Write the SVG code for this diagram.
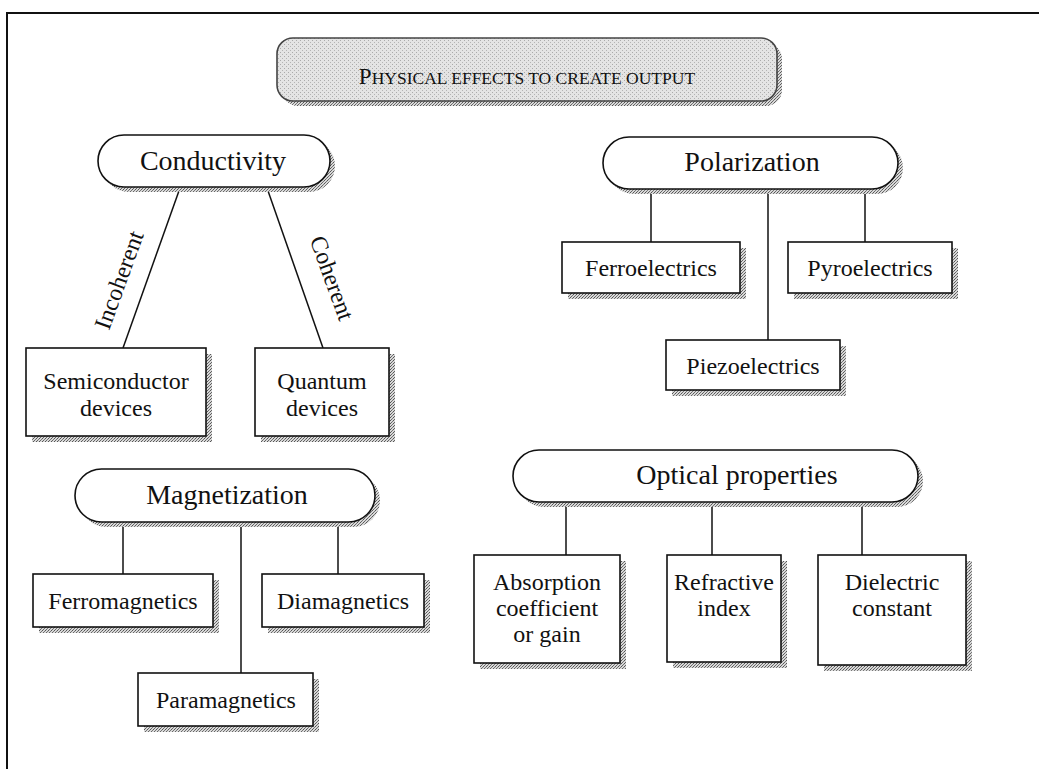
<svg xmlns="http://www.w3.org/2000/svg" width="1039" height="769" viewBox="0 0 1039 769">
  <defs>
    <!-- halftone stipple used for drop shadows -->
    <pattern id="stipple" width="3" height="3" patternUnits="userSpaceOnUse">
      <rect width="3" height="3" fill="#d8d8d8"/>
      <rect width="1" height="1" fill="#555"/>
      <rect x="2" y="1" width="1" height="1" fill="#777"/>
      <rect x="1" y="2" width="1" height="1" fill="#666"/>
    </pattern>
    <!-- lighter stipple for the title banner -->
    <pattern id="lightStipple" width="4" height="4" patternUnits="userSpaceOnUse">
      <rect width="4" height="4" fill="#e4e4e4"/>
      <rect width="1" height="1" fill="#aaa"/>
      <rect x="2" y="2" width="1" height="1" fill="#b4b4b4"/>
    </pattern>
  </defs>
  <style>
    .frame { fill: none; stroke: #111; stroke-width: 2; }
    .shadow { fill: url(#stipple); }
    .node { fill: #fff; stroke: #111; stroke-width: 1.6; }
    .banner { fill: url(#lightStipple); stroke: #444; stroke-width: 1.6; }
    .edge { stroke: #111; stroke-width: 1.5; fill: none; }
    text { font-family: "Liberation Serif", "Times New Roman", serif; fill: #111; text-anchor: middle; }
    .pill-label { font-size: 28px; }
    .box-label { font-size: 24px; }
    .edge-label { font-size: 24px; }
    .title { font-size: 17.5px; }
    .title .cap { font-size: 23px; }
  </style>

  <rect width="1039" height="769" fill="#fff"/>
  <path class="frame" d="M7,769 V13 H1039"/>

  <!-- title banner -->
  <g id="title">
    <rect class="shadow" x="282" y="43" width="500" height="63" rx="16"/>
    <rect class="banner" x="277" y="38" width="500" height="63" rx="16"/>
    <text class="title" x="527" y="84"><tspan class="cap">P</tspan>HYSICAL EFFECTS TO CREATE OUTPUT</text>
  </g>

  <!-- connectors -->
  <g id="connectors">
    <line class="edge" x1="180" y1="188" x2="123" y2="348"/>
    <line class="edge" x1="267" y1="188" x2="323" y2="348"/>
    <line class="edge" x1="651" y1="189" x2="651" y2="242"/>
    <line class="edge" x1="768" y1="189" x2="768" y2="340"/>
    <line class="edge" x1="865" y1="189" x2="865" y2="242"/>
    <line class="edge" x1="123" y1="522" x2="123" y2="574"/>
    <line class="edge" x1="241" y1="522" x2="241" y2="673"/>
    <line class="edge" x1="338" y1="522" x2="338" y2="574"/>
    <line class="edge" x1="566" y1="502" x2="566" y2="555"/>
    <line class="edge" x1="712" y1="502" x2="712" y2="555"/>
    <line class="edge" x1="862" y1="502" x2="862" y2="555"/>
    <text class="edge-label" transform="translate(119,280) rotate(-70)" y="8">Incoherent</text>
    <text class="edge-label" transform="translate(332,278) rotate(70)" y="8">Coherent</text>
  </g>

  <!-- Conductivity branch -->
  <g id="conductivity">
    <rect class="shadow" x="103" y="140" width="232" height="52" rx="26"/>
    <rect class="node" x="98" y="135" width="232" height="52" rx="26"/>
    <text class="pill-label" x="213" y="170">Conductivity</text>
  </g>
  <g id="semiconductor">
    <rect class="shadow" x="32" y="354" width="180" height="88"/>
    <rect class="node" x="26" y="348" width="180" height="88"/>
    <text class="box-label" x="116" y="389">Semiconductor</text>
    <text class="box-label" x="116" y="416">devices</text>
  </g>
  <g id="quantum">
    <rect class="shadow" x="261" y="354" width="134" height="88"/>
    <rect class="node" x="255" y="348" width="134" height="88"/>
    <text class="box-label" x="322" y="389">Quantum</text>
    <text class="box-label" x="322" y="416">devices</text>
  </g>

  <!-- Polarization branch -->
  <g id="polarization">
    <rect class="shadow" x="608" y="142" width="295" height="52" rx="26"/>
    <rect class="node" x="603" y="137" width="295" height="52" rx="26"/>
    <text class="pill-label" x="752" y="171">Polarization</text>
  </g>
  <g id="ferroelectrics">
    <rect class="shadow" x="568" y="248" width="178" height="51"/>
    <rect class="node" x="562" y="242" width="178" height="51"/>
    <text class="box-label" x="651" y="276">Ferroelectrics</text>
  </g>
  <g id="pyroelectrics">
    <rect class="shadow" x="794" y="248" width="164" height="51"/>
    <rect class="node" x="788" y="242" width="164" height="51"/>
    <text class="box-label" x="870" y="276">Pyroelectrics</text>
  </g>
  <g id="piezoelectrics">
    <rect class="shadow" x="672" y="346" width="174" height="50"/>
    <rect class="node" x="666" y="340" width="174" height="50"/>
    <text class="box-label" x="753" y="374">Piezoelectrics</text>
  </g>

  <!-- Magnetization branch -->
  <g id="magnetization">
    <rect class="shadow" x="80" y="474" width="300" height="53" rx="26.5"/>
    <rect class="node" x="75" y="469" width="300" height="53" rx="26.5"/>
    <text class="pill-label" x="227" y="504">Magnetization</text>
  </g>
  <g id="ferromagnetics">
    <rect class="shadow" x="39" y="580" width="180" height="53"/>
    <rect class="node" x="33" y="574" width="180" height="53"/>
    <text class="box-label" x="123" y="609">Ferromagnetics</text>
  </g>
  <g id="diamagnetics">
    <rect class="shadow" x="268" y="580" width="162" height="53"/>
    <rect class="node" x="262" y="574" width="162" height="53"/>
    <text class="box-label" x="343" y="609">Diamagnetics</text>
  </g>
  <g id="paramagnetics">
    <rect class="shadow" x="144" y="679" width="175" height="53"/>
    <rect class="node" x="138" y="673" width="175" height="53"/>
    <text class="box-label" x="226" y="708">Paramagnetics</text>
  </g>

  <!-- Optical properties branch -->
  <g id="optical">
    <rect class="shadow" x="518" y="455" width="405" height="52" rx="26"/>
    <rect class="node" x="513" y="450" width="405" height="52" rx="26"/>
    <text class="pill-label" x="737" y="484">Optical properties</text>
  </g>
  <g id="absorption">
    <rect class="shadow" x="480" y="561" width="146" height="108"/>
    <rect class="node" x="474" y="555" width="146" height="108"/>
    <text class="box-label" x="547" y="590">Absorption</text>
    <text class="box-label" x="547" y="616">coefficient</text>
    <text class="box-label" x="547" y="642">or gain</text>
  </g>
  <g id="refractive">
    <rect class="shadow" x="673" y="561" width="114" height="107"/>
    <rect class="node" x="667" y="555" width="114" height="107"/>
    <text class="box-label" x="724" y="590">Refractive</text>
    <text class="box-label" x="724" y="616">index</text>
  </g>
  <g id="dielectric">
    <rect class="shadow" x="824" y="561" width="148" height="110"/>
    <rect class="node" x="818" y="555" width="148" height="110"/>
    <text class="box-label" x="892" y="590">Dielectric</text>
    <text class="box-label" x="892" y="616">constant</text>
  </g>
</svg>
